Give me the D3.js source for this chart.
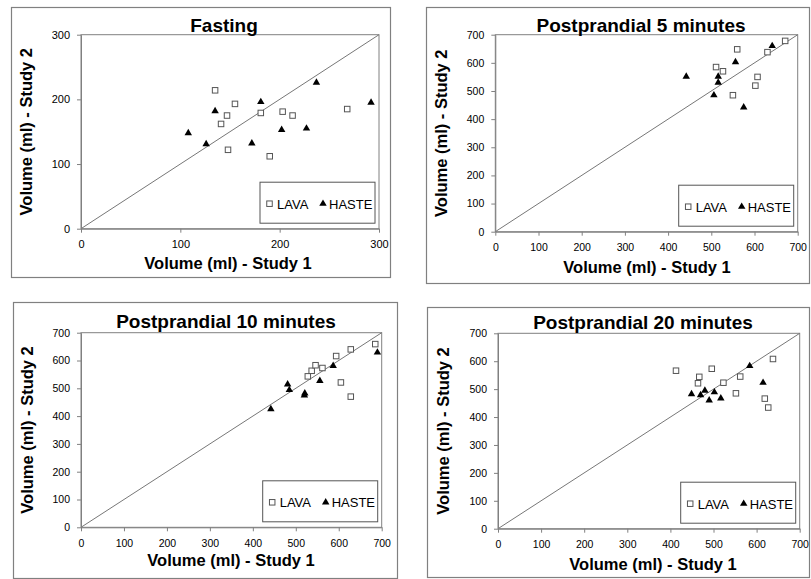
<!DOCTYPE html>
<html>
<head>
<meta charset="utf-8">
<script src="https://cdn.jsdelivr.net/npm/d3@7"></script>
<style>
body { margin: 0; background: #fff; }
text { font-family: Arial, "Liberation Sans", sans-serif; }
</style>
</head>
<body>
<div id="chart"></div>
<script>
//panel titles and legend names
var titles = ["Fasting", "Postprandial 5 minutes", "Postprandial 10 minutes", "Postprandial 20 minutes"];
var seriesNames = ["LAVA", "HASTE"];
var xTitle = "Volume (ml) - Study 1";
var yTitle = "Volume (ml) - Study 2";

//tick values
var fastingTicks = [0, 100, 200, 300];
var postTicks = [0, 100, 200, 300, 400, 500, 600, 700];

//[study 1, study 2] volumes in ml
var fastingLava = [[135, 214], [155, 193], [147, 175], [141, 162], [148, 122], [181, 179], [190, 112], [203, 181], [213, 175], [268, 185]];
var fastingHaste = [[108, 148], [126, 131], [135, 182], [172, 132], [181, 196], [202, 153], [227, 155], [237, 226], [292, 195]];
var min5Lava = [[511, 585], [527, 570], [550, 485], [560, 648], [602, 519], [607, 550], [630, 638], [671, 678]];
var min5Haste = [[442, 551], [506, 485], [516, 551], [516, 530], [556, 603], [575, 442], [641, 660]];
var min10Lava = [[528, 543], [537, 563], [546, 583], [562, 573], [594, 616], [605, 521], [628, 640], [628, 470], [685, 659]];
var min10Haste = [[442, 425], [481, 514], [485, 494], [520, 475], [521, 482], [556, 527], [587, 581], [690, 629]];
var min20Lava = [[413, 566], [464, 521], [467, 544], [496, 573], [523, 523], [552, 485], [562, 545], [619, 466], [627, 434], [638, 608]];
var min20Haste = [[449, 482], [470, 479], [480, 495], [490, 460], [502, 489], [517, 467], [584, 583], [615, 523]];

var w = 811;
var h = 579;

//where each panel sits on the page
var panels = [
    { frame: [11, 7, 379, 270], plot: [81, 379, 34.7, 228.7], ticks: fastingTicks, lava: fastingLava, haste: fastingHaste,
      titleX: 224, titleY: 31.7, yTitleX: 32, xTitleX: 228, xTitleY: 269, tickFont: 11 },
    { frame: [426, 7, 383, 276], plot: [495.3, 797.7, 34.7, 231.7], ticks: postTicks, lava: min5Lava, haste: min5Haste,
      titleX: 641, titleY: 31.7, yTitleX: 447, xTitleX: 647, xTitleY: 272.7, tickFont: 10.5 },
    { frame: [13, 302, 384, 276], plot: [81, 381.7, 332.7, 527.3], ticks: postTicks, lava: min10Lava, haste: min10Haste,
      titleX: 226, titleY: 328.3, yTitleX: 32.5, xTitleX: 231, xTitleY: 565.7, tickFont: 10.5 },
    { frame: [427, 307, 382, 270], plot: [498, 799.7, 333.3, 528.7], ticks: postTicks, lava: min20Lava, haste: min20Haste,
      titleX: 643, titleY: 329.3, yTitleX: 449, xTitleX: 653, xTitleY: 570, tickFont: 10.5 }
];

var svg = d3.select("#chart")
    .append("svg")
    .attr("width", w)
    .attr("height", h);

var triangle = d3.symbol().type(d3.symbolTriangle).size(24);

function drawSquare(g, x, y) {
    g.append("rect")
        .attr("x", x - 2.75)
        .attr("y", y - 2.75)
        .attr("width", 5.5)
        .attr("height", 5.5)
        .attr("fill", "#fff")
        .attr("stroke", "#555")
        .attr("stroke-width", 1);
}

panels.forEach(function (p, i) {
    var g = svg.append("g");
    var maxV = p.ticks[p.ticks.length - 1];

    var xScale = d3.scaleLinear().domain([0, maxV]).range([p.plot[0], p.plot[1]]);
    var yScale = d3.scaleLinear().domain([0, maxV]).range([p.plot[3], p.plot[2]]);

    //outer frame of the chart
    g.append("rect")
        .attr("x", p.frame[0] + 0.5)
        .attr("y", p.frame[1] + 0.5)
        .attr("width", p.frame[2])
        .attr("height", p.frame[3])
        .attr("fill", "#fff")
        .attr("stroke", "#808080")
        .attr("stroke-width", 1.2);

    //plot area border
    g.append("rect")
        .attr("x", xScale(0))
        .attr("y", yScale(maxV))
        .attr("width", xScale(maxV) - xScale(0))
        .attr("height", yScale(0) - yScale(maxV))
        .attr("fill", "none")
        .attr("stroke", "#808080");

    //line of identity
    g.append("line")
        .attr("x1", xScale(0))
        .attr("y1", yScale(0))
        .attr("x2", xScale(maxV))
        .attr("y2", yScale(maxV))
        .attr("stroke", "#777")
        .attr("stroke-width", 1);

    //axes
    var xAxis = g.append("g")
        .attr("transform", "translate(0," + yScale(0) + ")")
        .call(d3.axisBottom(xScale).tickValues(p.ticks).tickSize(4).tickSizeOuter(0).tickPadding(8));
    var yAxis = g.append("g")
        .attr("transform", "translate(" + xScale(0) + ",0)")
        .call(d3.axisLeft(yScale).tickValues(p.ticks).tickSize(4).tickSizeOuter(0).tickPadding(7));
    [xAxis, yAxis].forEach(function (a) {
        a.select(".domain").attr("stroke", "#808080");
        a.selectAll(".tick line").attr("stroke", "#808080");
        a.selectAll(".tick text")
            .attr("fill", "#000")
            .style("font-size", p.tickFont + "px")
            .style("font-family", "Arial, 'Liberation Sans', sans-serif");
    });

    //points
    p.lava.forEach(function (d) {
        drawSquare(g, xScale(d[0]), yScale(d[1]));
    });
    g.selectAll(".haste")
        .data(p.haste)
        .enter()
        .append("path")
        .attr("class", "haste")
        .attr("d", triangle)
        .attr("transform", function (d) {
            return "translate(" + xScale(d[0]) + "," + yScale(d[1]) + ")";
        })
        .attr("fill", "#000");

    //legend box at bottom right of plot
    var lw = 115, lh = 41;
    var lx = xScale(maxV) - 4 - lw;
    var ly = yScale(0) - 5.5 - lh;
    g.append("rect")
        .attr("x", lx)
        .attr("y", ly)
        .attr("width", lw)
        .attr("height", lh)
        .attr("fill", "#fff")
        .attr("stroke", "#555");
    var cy = ly + lh / 2;
    drawSquare(g, lx + 9.5, cy + 1);
    g.append("text")
        .attr("x", lx + 17)
        .attr("y", cy + 6)
        .style("font-size", "13px")
        .text(seriesNames[0]);
    g.append("path")
        .attr("d", triangle)
        .attr("transform", "translate(" + (lx + 63) + "," + (cy + 1) + ")")
        .attr("fill", "#000");
    g.append("text")
        .attr("x", lx + 69)
        .attr("y", cy + 6)
        .style("font-size", "13px")
        .text(seriesNames[1]);

    //titles
    g.append("text")
        .attr("x", p.titleX)
        .attr("y", p.titleY)
        .attr("text-anchor", "middle")
        .style("font-size", "19px")
        .style("font-weight", "bold")
        .text(titles[i]);
    g.append("text")
        .attr("x", p.xTitleX)
        .attr("y", p.xTitleY)
        .attr("text-anchor", "middle")
        .style("font-size", "16.5px")
        .style("font-weight", "bold")
        .text(xTitle);
    g.append("text")
        .attr("transform", "translate(" + p.yTitleX + "," + ((p.plot[2] + p.plot[3]) / 2) + ") rotate(-90)")
        .attr("text-anchor", "middle")
        .style("font-size", "16.5px")
        .style("font-weight", "bold")
        .text(yTitle);
});
</script>
</body>
</html>
